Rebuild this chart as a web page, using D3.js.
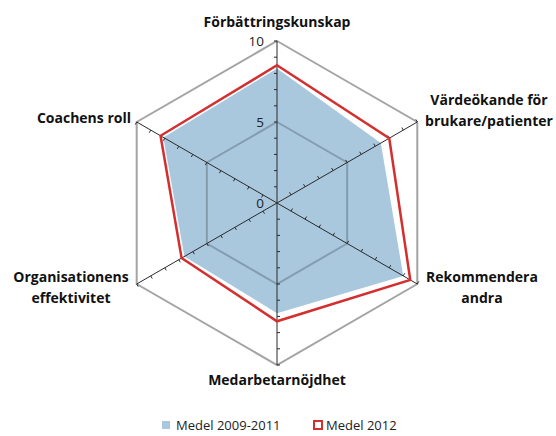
<!DOCTYPE html>
<html>
<head>
<meta charset="utf-8">
<script src="https://cdn.jsdelivr.net/npm/d3@7"></script>
<style>
  body { margin: 0; background: #fff; }
  svg text { font-family: "Open Sans", Lato, sans-serif; }
  .lab { font-weight: bold; font-size: 14px; fill: #111; }
  .tick { font-size: 13.5px; fill: #222; }
  .leg { font-size: 13px; fill: #222; }
</style>
</head>
<body>
<div id="chart"></div>
<script>
// kategorier, medurs från toppen
var categories = ['Förbättringskunskap', 'Värdeökande för brukare/patienter', 'Rekommendera andra',
                  'Medarbetarnöjdhet', 'Organisationens effektivitet', 'Coachens roll'];
var medel0911 = [8.3, 7.4, 9.0, 6.8, 6.6, 8.1];
var medel2012 = [8.5, 8.0, 9.5, 7.3, 6.8, 8.3];
var seriesNames = ['Medel 2009-2011', 'Medel 2012'];
var tickLabels = [0, 5, 10];

var width = 556, height = 436;
var cx = 277, cy = 203;

var svg = d3.select('#chart')
    .append('svg')
    .attr('width', width)
    .attr('height', height);

var r = d3.scaleLinear().domain([0, 10]).range([0, 162]);
var angle = d3.scaleLinear().domain([0, categories.length]).range([0, 2 * Math.PI]);

var g = svg.append('g').attr('transform', 'translate(' + cx + ',' + cy + ')');

function pt(i, v) {
    var a = angle(i);
    return [r(v) * Math.sin(a), -r(v) * Math.cos(a)];
}

var radial = d3.lineRadial()
    .angle(function(d, i) { return angle(i); })
    .radius(function(d) { return r(d); })
    .curve(d3.curveLinearClosed);

// serie 1 fylld
g.append('path')
    .datum(medel0911)
    .attr('d', radial)
    .attr('fill', '#a9c8de')
    .attr('stroke', 'none');

// rutnät
[5, 10].forEach(function(v) {
    g.append('path')
        .datum(categories.map(function() { return v; }))
        .attr('d', radial)
        .attr('fill', 'none')
        .attr('stroke', v == 10 ? '#9a9a9a' : '#7e98aa')
        .attr('stroke-width', 2)
        .attr('stroke-opacity', 0.9);
});

// axlar
categories.forEach(function(c, i) {
    var e = pt(i, 10);
    g.append('line')
        .attr('x1', 0).attr('y1', 0)
        .attr('x2', e[0]).attr('y2', e[1])
        .attr('stroke', '#2a2a2a')
        .attr('stroke-width', 1);
    var a = angle(i);
    var nx = Math.cos(a), ny = Math.sin(a);
    d3.range(1, 11).forEach(function(t) {
        var p = pt(i, t);
        g.append('line')
            .attr('x1', p[0]).attr('y1', p[1])
            .attr('x2', p[0] - nx * 3).attr('y2', p[1] - ny * 3)
            .attr('stroke', '#2a2a2a')
            .attr('stroke-width', 1);
    });
});

// serie 2 linje
g.append('path')
    .datum(medel2012)
    .attr('d', radial)
    .attr('fill', 'none')
    .attr('stroke', '#d32f2f')
    .attr('stroke-width', 2.5)
    .attr('stroke-linejoin', 'miter');

// skalans etiketter
g.selectAll('.tick')
    .data(tickLabels)
    .enter().append('text')
    .attr('class', 'tick')
    .attr('x', -13)
    .attr('y', function(d) { return -r(d) + 5; })
    .attr('text-anchor', 'end')
    .text(function(d) { return d; });

// kategorietiketter
var labelPos = [
    { x: 0, y: -176, anchor: 'middle', lines: ['Förbättringskunskap'] },
    { x: 212, y: -98, anchor: 'middle', lines: ['Värdeökande för', 'brukare/patienter'] },
    { x: 205, y: 79, anchor: 'middle', lines: ['Rekommendera', 'andra'] },
    { x: 0, y: 182, anchor: 'middle', lines: ['Medarbetarnöjdhet'] },
    { x: -206, y: 79, anchor: 'middle', lines: ['Organisationens', 'effektivitet'] },
    { x: -146, y: -80, anchor: 'end', lines: ['Coachens roll'] }
];
labelPos.forEach(function(l) {
    var t = g.append('text')
        .attr('class', 'lab')
        .attr('text-anchor', l.anchor)
        .attr('x', l.x)
        .attr('y', l.y);
    l.lines.forEach(function(s, k) {
        t.append('tspan')
            .attr('x', l.x)
            .attr('dy', k == 0 ? 0 : 21)
            .text(s);
    });
});

// legend
var leg = svg.append('g').attr('transform', 'translate(0,425)');
leg.append('rect').attr('x', 162).attr('y', -4).attr('width', 8).attr('height', 8).attr('fill', '#a9c8de');
leg.append('text').attr('class', 'leg').attr('x', 176).attr('y', 4.5).text(seriesNames[0]);
leg.append('rect').attr('x', 314).attr('y', -4).attr('width', 8).attr('height', 8)
    .attr('fill', '#fff').attr('stroke', '#d32f2f').attr('stroke-width', 2);
leg.append('text').attr('class', 'leg').attr('x', 326).attr('y', 4.5).text(seriesNames[1]);
</script>
</body>
</html>
